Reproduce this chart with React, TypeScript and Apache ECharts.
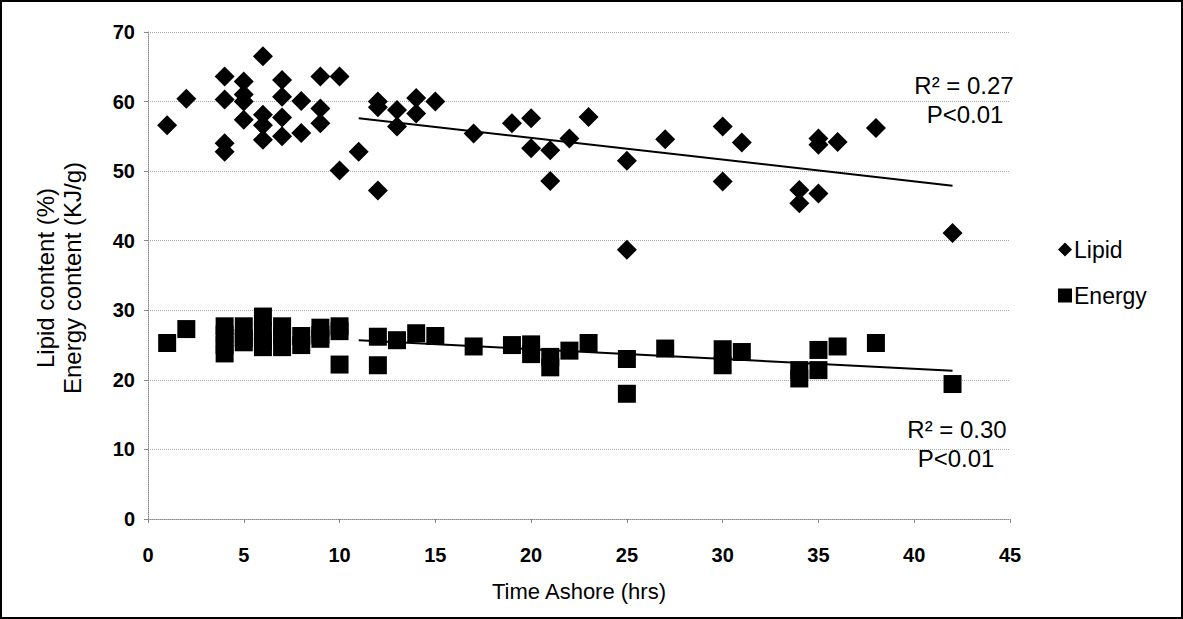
import React, { useEffect, useRef } from "react";
import * as echarts from "echarts";

// Lipid content (%) vs time ashore (hrs)
const lipidTime = [1, 2, 4, 4, 4, 4, 5, 5, 5, 5, 6, 6, 6, 6, 7, 7, 7, 7, 8, 8, 9, 9, 9, 10, 10, 11, 12, 12, 12, 13, 13, 14, 14, 15, 17, 19, 20, 20, 21, 21, 22, 23, 25, 25, 27, 30, 30, 31, 34, 34, 35, 35, 35, 36, 38, 42];
const lipidValue = [56.6, 60.4, 63.6, 60.3, 54.0, 52.8, 62.9, 61.0, 60.0, 57.4, 66.5, 58.1, 56.6, 54.5, 63.1, 60.7, 57.7, 55.0, 60.1, 55.5, 63.6, 59.0, 56.9, 63.6, 50.1, 52.8, 60.0, 59.2, 47.2, 58.8, 56.4, 60.5, 58.3, 60.0, 55.4, 56.9, 57.6, 53.3, 53.0, 48.6, 54.7, 57.8, 51.5, 38.7, 54.6, 56.4, 48.5, 54.1, 47.3, 45.4, 54.7, 53.8, 46.8, 54.2, 56.2, 41.1];

// Energy content (KJ/g) vs time ashore (hrs)
const energyTime = [1, 2, 4, 4, 4, 4, 5, 5, 5, 6, 6, 6, 6, 7, 7, 7, 8, 8, 9, 9, 9, 10, 10, 10, 12, 12, 13, 14, 15, 17, 19, 20, 20, 21, 21, 22, 23, 25, 25, 27, 30, 30, 31, 34, 34, 35, 35, 36, 38, 42];
const energyValue = [25.3, 27.3, 27.7, 26.5, 25.0, 23.8, 27.7, 26.0, 25.4, 29.1, 27.0, 25.5, 24.7, 27.7, 26.3, 24.7, 26.3, 25.0, 27.5, 26.5, 25.9, 27.7, 27.0, 22.2, 26.2, 22.1, 25.7, 26.7, 26.3, 24.8, 25.0, 25.1, 23.7, 23.3, 21.8, 24.2, 25.3, 23.0, 18.0, 24.5, 24.4, 22.1, 24.0, 21.4, 20.2, 24.3, 21.4, 24.8, 25.3, 19.4];

// Linear trend line end points
const lipidTrendTime = [11, 42];
const lipidTrendValue = [57.6, 47.9];
const energyTrendTime = [11, 42];
const energyTrendValue = [25.7, 21.3];

const xTicks = [0, 5, 10, 15, 20, 25, 30, 35, 40, 45];
const yTicks = [0, 10, 20, 30, 40, 50, 60, 70];

const seriesNames = ["Lipid", "Energy"];
const legendIcons = ["diamond", "rect"];
const annotations = ["R² = 0.27", "P<0.01", "R² = 0.30", "P<0.01"];
const xTitle = "Time Ashore (hrs)";
const yTitle = ["Lipid content (%)", "Energy content (KJ/g)"];

const FONT = '"Liberation Sans", Arial, sans-serif';

export default function App() {
  const ref = useRef<HTMLDivElement>(null);

  useEffect(() => {
    if (!ref.current) return;
    const chart = echarts.init(ref.current, null, { renderer: "svg" });
    const pairs = (xs: number[], ys: number[]) => xs.map((x, i) => [x, ys[i]]);

    chart.setOption({
      animation: false,
      backgroundColor: "#ffffff",
      grid: { left: 148, right: 173, top: 32, bottom: 100, containLabel: false },
      xAxis: {
        type: "value",
        min: xTicks[0],
        max: xTicks[xTicks.length - 1],
        interval: 5,
        name: xTitle,
        nameLocation: "middle",
        nameGap: 61,
        nameTextStyle: { fontFamily: FONT, fontSize: 22, color: "#000" },
        axisLine: { show: true, lineStyle: { color: "#888", type: "dotted", width: 1 } },
        axisTick: { show: true, length: 4, lineStyle: { color: "#888" } },
        axisLabel: { fontFamily: FONT, fontSize: 20, color: "#000", margin: 26, fontWeight: "bold" },
        splitLine: { show: false },
      },
      yAxis: {
        type: "value",
        min: yTicks[0],
        max: yTicks[yTicks.length - 1],
        interval: 10,
        axisLine: { show: true, lineStyle: { color: "#888", type: "dotted", width: 1 } },
        axisTick: { show: true, length: 4, lineStyle: { color: "#888" } },
        axisLabel: { fontFamily: FONT, fontSize: 20, color: "#000", margin: 13, fontWeight: "bold" },
        splitLine: { show: true, lineStyle: { color: "#aaa", type: "dotted", width: 1 } },
      },
      legend: {
        data: seriesNames.map((name, i) => ({ name, icon: legendIcons[i] })),
        orient: "vertical",
        left: 1053,
        top: 233,
        itemGap: 23,
        itemWidth: 14,
        itemHeight: 14,
        textStyle: { fontFamily: FONT, fontSize: 23, color: "#000", padding: [0, 0, 0, -3] },
      },
      series: [
        {
          name: seriesNames[0],
          type: "scatter",
          symbol: "diamond",
          symbolSize: 20,
          itemStyle: { color: "#000", opacity: 1 },
          data: pairs(lipidTime, lipidValue),
          z: 3,
        },
        {
          name: seriesNames[1],
          type: "scatter",
          symbol: "rect",
          symbolSize: 18,
          itemStyle: { color: "#000", opacity: 1 },
          data: pairs(energyTime, energyValue),
          z: 3,
        },
        {
          name: "Lipid trend",
          type: "line",
          showSymbol: false,
          symbol: "none",
          lineStyle: { color: "#000", width: 2 },
          data: pairs(lipidTrendTime, lipidTrendValue),
          z: 4,
        },
        {
          name: "Energy trend",
          type: "line",
          showSymbol: false,
          symbol: "none",
          lineStyle: { color: "#000", width: 2 },
          data: pairs(energyTrendTime, energyTrendValue),
          z: 4,
        },
      ],
      graphic: [
        {
          type: "rect",
          shape: { x: 1, y: 1, width: 1181, height: 617 },
          style: { fill: "none", stroke: "#000", lineWidth: 2 },
          silent: true,
        },
        {
          type: "text",
          x: 59,
          y: 278,
          rotation: Math.PI / 2,
          style: {
            text: yTitle.join("\n"),
            font: `24px ${FONT}`,
            fill: "#000",
            textAlign: "center",
            textVerticalAlign: "middle",
            lineHeight: 27,
          },
        },
        {
          type: "text",
          x: 964,
          y: 85,
          style: { text: annotations[0], font: `24px ${FONT}`, fill: "#000", textAlign: "center", textVerticalAlign: "middle" },
        },
        {
          type: "text",
          x: 965,
          y: 114,
          style: { text: annotations[1], font: `24px ${FONT}`, fill: "#000", textAlign: "center", textVerticalAlign: "middle" },
        },
        {
          type: "text",
          x: 957,
          y: 429,
          style: { text: annotations[2], font: `24px ${FONT}`, fill: "#000", textAlign: "center", textVerticalAlign: "middle" },
        },
        {
          type: "text",
          x: 956,
          y: 458,
          style: { text: annotations[3], font: `24px ${FONT}`, fill: "#000", textAlign: "center", textVerticalAlign: "middle" },
        },
      ],
    });

    return () => chart.dispose();
  }, []);

  return (
    <div
      ref={ref}
      style={{ position: "absolute", left: 0, top: 0, width: 1183, height: 619 }}
    />
  );
}
